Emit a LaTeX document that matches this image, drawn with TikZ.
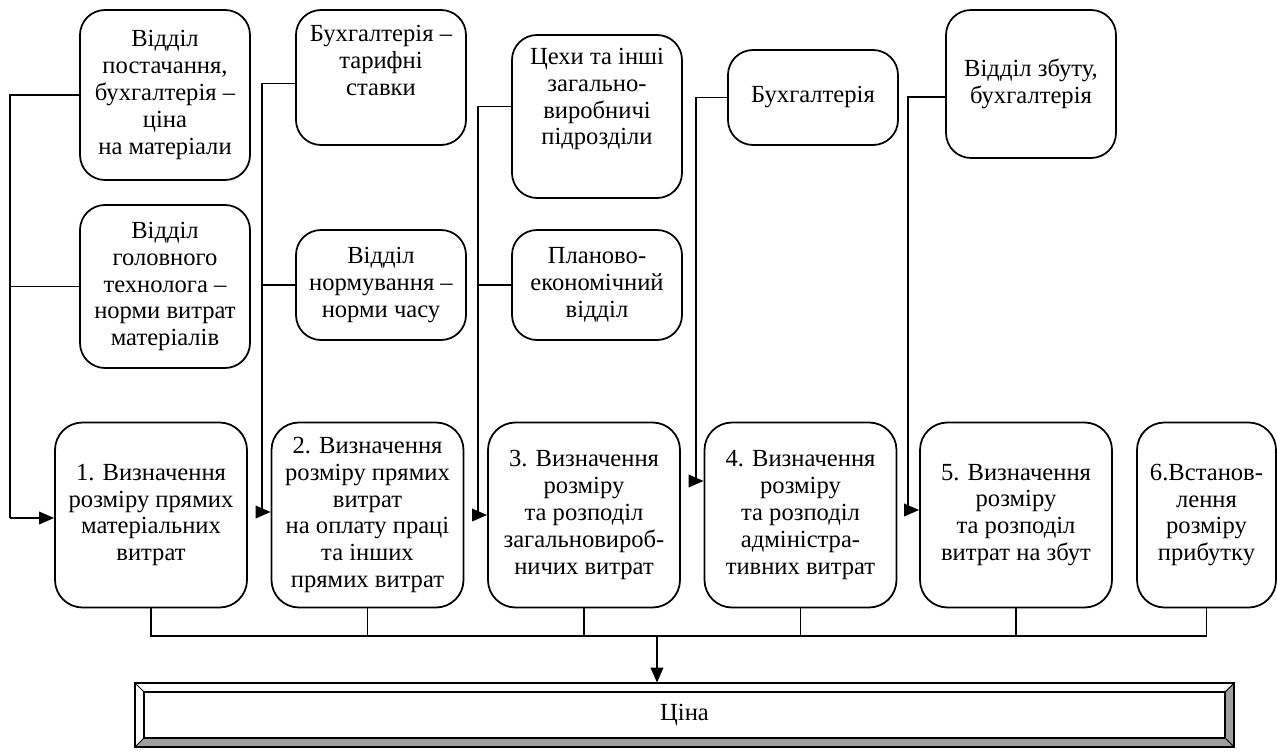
\documentclass[tikz,border=0pt]{standalone}
\usepackage{fontspec}
\setmainfont{Liberation Serif}
\usetikzlibrary{arrows.meta}
\tikzset{
  src/.style={draw,line width=1pt,rounded corners=0.5cm,align=center,
    minimum width=3.4cm,font=\fontsize{14}{15.3}\selectfont,inner sep=2pt},
  stage/.style={draw,line width=1pt,rounded corners=0.55cm,align=center,
    minimum width=3.84cm,minimum height=3.7cm,font=\fontsize{14}{15.3}\selectfont,inner sep=2pt},
  link/.style={line width=1.1pt},
  arr/.style={line width=1.1pt,-{Triangle[length=0.3cm,width=0.25cm]}}
}
\begin{document}
\begin{tikzpicture}
\useasboundingbox (0,0) rectangle (25.54,-15.02);
% sources
\node[src,minimum height=3.4cm] (A1) at (3.3,-1.9) {Відділ\\постачання,\\бухгалтерія –\\ціна\\на матеріали};
\node[src,minimum height=3.26cm] (A2) at (3.3,-5.73) {Відділ\\головного\\технолога –\\норми витрат\\матеріалів};
\node[src,minimum height=2.7cm,text depth=0.7cm] (B1) at (7.62,-1.55) {Бухгалтерія –\\тарифні\\ставки};
\node[src,minimum height=2.2cm] (B2) at (7.62,-5.7) {Відділ\\нормування –\\норми часу};
\node[src,minimum height=3.26cm,text depth=0.8cm] (C1) at (11.94,-2.33) {Цехи та інші\\загально-\\виробничі\\підрозділи};
\node[src,minimum height=2.2cm] (C2) at (11.94,-5.7) {Планово-\\економічний\\відділ};
\node[src,minimum height=1.9cm] (D1) at (16.26,-1.95) {Бухгалтерія};
\node[src,minimum height=2.96cm] (E1) at (20.62,-1.68) {Відділ збуту,\\бухгалтерія};
% stages
\node[stage] (S1) at (3.02,-10.3) {1. Визначення\\розміру прямих\\матеріальних\\витрат};
\node[stage] (S2) at (7.35,-10.3) {2. Визначення\\розміру прямих\\витрат\\на оплату праці\\та інших\\прямих витрат};
\node[stage] (S3) at (11.68,-10.3) {3. Визначення\\розміру\\та розподіл\\загальновироб-\\ничих витрат};
\node[stage] (S4) at (16.01,-10.3) {4. Визначення\\розміру\\та розподіл\\адміністра-\\тивних витрат};
\node[stage] (S5) at (20.32,-10.3) {5. Визначення\\розміру\\та розподіл\\витрат на збут};
\node[stage,minimum width=2.78cm] (S6) at (24.13,-10.3) {6.Встанов-\\лення\\розміру\\прибутку};
% price
\node[minimum width=21.98cm,minimum height=1.28cm] (P) at (13.69,-14.3) {};
\fill[gray!75] (P.north east) -- (P.south east) -- ([shift={(-0.18,0.18)}]P.south east) -- ([shift={(-0.18,-0.18)}]P.north east) -- cycle;
\fill[gray!75] (P.south west) -- (P.south east) -- ([shift={(-0.18,0.18)}]P.south east) -- ([shift={(0.18,0.18)}]P.south west) -- cycle;
\draw[line width=1pt] (P.north west) rectangle (P.south east);
\draw[line width=1pt] ([shift={(0.18,-0.18)}]P.north west) rectangle ([shift={(-0.18,0.18)}]P.south east);
\draw[line width=0.6pt] (P.north west) -- ([shift={(0.18,-0.18)}]P.north west);
\draw[line width=0.6pt] (P.north east) -- ([shift={(-0.18,-0.18)}]P.north east);
\draw[line width=0.6pt] (P.south west) -- ([shift={(0.18,0.18)}]P.south west);
\draw[line width=0.6pt] (P.south east) -- ([shift={(-0.18,0.18)}]P.south east);
\node[font=\fontsize{14}{15.3}\selectfont] (Pt) at (P.center) {Ціна};
% connectors
\coordinate (ka) at (0.2,-10.36);
\coordinate (kb) at (5.24,-10.24);
\coordinate (kc) at (9.56,-10.3);
\coordinate (kd) at (13.92,-9.62);
\coordinate (ke) at (18.16,-10.2);
\draw[link] (A1.west) -| (ka);
\draw[link] (A2.west) -- (A2.west -| ka);
\draw[arr] (ka) -- (ka -| S1.west);
\draw[link] ([yshift=-0.12cm]B1.west) -| (kb);
\draw[link] (B2.west) -- (B2.west -| kb);
\draw[arr] (kb) -- (kb -| S2.west);
\draw[link] ([yshift=0.2cm]C1.west) -| (kc);
\draw[link] (C2.west) -- (C2.west -| kc);
\draw[arr] (kc) -- (kc -| S3.west);
\draw[link] (D1.west) -| (kd);
\draw[arr] (kd) -- (kd -| S4.west);
\draw[link] ([yshift=-0.26cm]E1.west) -| (ke);
\draw[arr] (ke) -- (ke -| S5.west);
% bus
\coordinate (bus) at (13.14,-12.72);
\draw[link] (S1.south) |- (S6.south |- bus) -- (S6.south);
\foreach \n in {2,...,5}
  \draw[link] (S\n.south) -- (S\n.south |- bus);
\draw[arr] (bus) -- (bus |- P.north);
\end{tikzpicture}
\end{document}
